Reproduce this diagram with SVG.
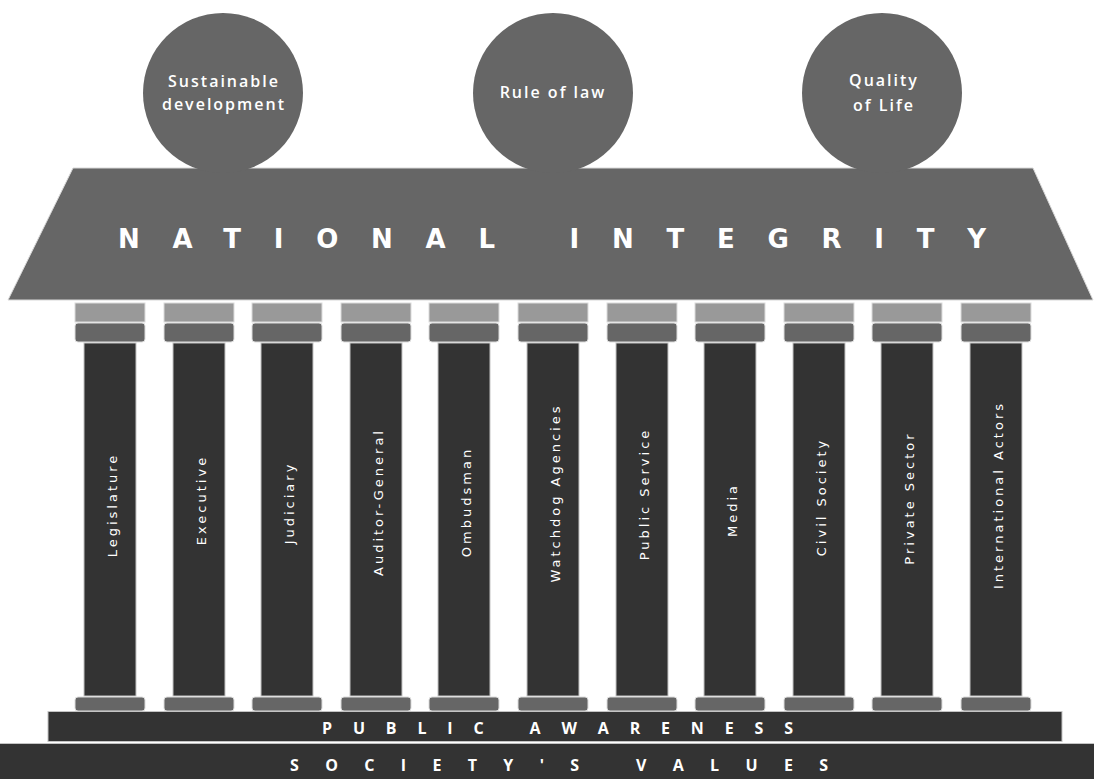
<svg xmlns="http://www.w3.org/2000/svg" width="1094" height="779" viewBox="0 0 1094 779">
<style>
.circ{fill:#666666}
.ctxt{fill:#ffffff;font-family:"Open Sans","DejaVu Sans",sans-serif;font-weight:600;font-size:16px;letter-spacing:2px;text-anchor:middle}
.roof{fill:#666666;stroke:#d8d8d8;stroke-width:1}
.title{fill:#ffffff;font-family:"DejaVu Sans",sans-serif;font-weight:bold;font-size:26px}
.cap{fill:#999999;stroke:#dcdcdc;stroke-width:1}
.band{fill:#666666;stroke:#dcdcdc;stroke-width:1}
.shaft{fill:#333333;stroke:#c4c4c4;stroke-width:1}
.base{fill:#666666;stroke:#dcdcdc;stroke-width:1}
.lbl{fill:#ffffff;font-family:"DejaVu Sans",sans-serif;font-size:13px;letter-spacing:3px;text-anchor:middle}
.bar{fill:#333333;stroke:#c4c4c4;stroke-width:1}
.btxt{fill:#ffffff;font-family:"Open Sans","DejaVu Sans",sans-serif;font-weight:700;font-size:16px}
</style>
<rect width="1094" height="779" fill="#ffffff"/>

<g id="roof">
<polygon class="roof" points="73,168 1033,168 1093,300 8,300"/>
<text class="title" x="118" y="248" textLength="868" lengthAdjust="spacing">NATIONAL INTEGRITY</text>
</g>

<g id="circle-sustainable">
<circle class="circ" cx="223" cy="93" r="80"/>
<text class="ctxt" x="224" y="87">Sustainable</text>
<text class="ctxt" x="224" y="110">development</text>
</g>
<g id="circle-rule">
<circle class="circ" cx="553" cy="93" r="80"/>
<text class="ctxt" x="553" y="98">Rule of law</text>
</g>
<g id="circle-quality">
<circle class="circ" cx="882" cy="93" r="80"/>
<text class="ctxt" x="884" y="86">Quality</text>
<text class="ctxt" x="884" y="111">of Life</text>
</g>

<g id="col-legislature">
<rect class="cap" x="75" y="303" width="70" height="19"/><rect class="band" x="75" y="323" width="70" height="19" rx="3"/>
<rect class="shaft" x="84" y="343" width="52" height="353"/><rect class="base" x="75" y="697" width="70" height="14" rx="3"/>
<text class="lbl" transform="translate(117,505) rotate(-90)">Legislature</text>
</g>
<g id="col-executive">
<rect class="cap" x="164" y="303" width="70" height="19"/><rect class="band" x="164" y="323" width="70" height="19" rx="3"/>
<rect class="shaft" x="173" y="343" width="52" height="353"/><rect class="base" x="164" y="697" width="70" height="14" rx="3"/>
<text class="lbl" transform="translate(206,500) rotate(-90)">Executive</text>
</g>
<g id="col-judiciary">
<rect class="cap" x="252" y="303" width="70" height="19"/><rect class="band" x="252" y="323" width="70" height="19" rx="3"/>
<rect class="shaft" x="261" y="343" width="52" height="353"/><rect class="base" x="252" y="697" width="70" height="14" rx="3"/>
<text class="lbl" transform="translate(294,503) rotate(-90)">Judiciary</text>
</g>
<g id="col-auditor">
<rect class="cap" x="341" y="303" width="70" height="19"/><rect class="band" x="341" y="323" width="70" height="19" rx="3"/>
<rect class="shaft" x="350" y="343" width="52" height="353"/><rect class="base" x="341" y="697" width="70" height="14" rx="3"/>
<text class="lbl" transform="translate(383,502) rotate(-90)">Auditor-General</text>
</g>
<g id="col-ombudsman">
<rect class="cap" x="429" y="303" width="70" height="19"/><rect class="band" x="429" y="323" width="70" height="19" rx="3"/>
<rect class="shaft" x="438" y="343" width="52" height="353"/><rect class="base" x="429" y="697" width="70" height="14" rx="3"/>
<text class="lbl" transform="translate(471,502) rotate(-90)">Ombudsman</text>
</g>
<g id="col-watchdog">
<rect class="cap" x="518" y="303" width="70" height="19"/><rect class="band" x="518" y="323" width="70" height="19" rx="3"/>
<rect class="shaft" x="527" y="343" width="52" height="353"/><rect class="base" x="518" y="697" width="70" height="14" rx="3"/>
<text class="lbl" transform="translate(560,493) rotate(-90)">Watchdog Agencies</text>
</g>
<g id="col-publicservice">
<rect class="cap" x="607" y="303" width="70" height="19"/><rect class="band" x="607" y="323" width="70" height="19" rx="3"/>
<rect class="shaft" x="616" y="343" width="52" height="353"/><rect class="base" x="607" y="697" width="70" height="14" rx="3"/>
<text class="lbl" transform="translate(649,494) rotate(-90)">Public Service</text>
</g>
<g id="col-media">
<rect class="cap" x="695" y="303" width="70" height="19"/><rect class="band" x="695" y="323" width="70" height="19" rx="3"/>
<rect class="shaft" x="704" y="343" width="52" height="353"/><rect class="base" x="695" y="697" width="70" height="14" rx="3"/>
<text class="lbl" transform="translate(737,510) rotate(-90)">Media</text>
</g>
<g id="col-civilsociety">
<rect class="cap" x="784" y="303" width="70" height="19"/><rect class="band" x="784" y="323" width="70" height="19" rx="3"/>
<rect class="shaft" x="793" y="343" width="52" height="353"/><rect class="base" x="784" y="697" width="70" height="14" rx="3"/>
<text class="lbl" transform="translate(826,497) rotate(-90)">Civil Society</text>
</g>
<g id="col-privatesector">
<rect class="cap" x="872" y="303" width="70" height="19"/><rect class="band" x="872" y="323" width="70" height="19" rx="3"/>
<rect class="shaft" x="881" y="343" width="52" height="353"/><rect class="base" x="872" y="697" width="70" height="14" rx="3"/>
<text class="lbl" transform="translate(914,498) rotate(-90)">Private Sector</text>
</g>
<g id="col-international">
<rect class="cap" x="961" y="303" width="70" height="19"/><rect class="band" x="961" y="323" width="70" height="19" rx="3"/>
<rect class="shaft" x="970" y="343" width="52" height="353"/><rect class="base" x="961" y="697" width="70" height="14" rx="3"/>
<text class="lbl" transform="translate(1003,495) rotate(-90)">International Actors</text>
</g>

<g id="public-awareness">
<rect class="bar" x="48" y="711.5" width="1014" height="30"/>
<text class="btxt" x="322" y="734" textLength="471" lengthAdjust="spacing">PUBLIC AWARENESS</text>
</g>
<g id="societys-values">
<rect class="bar" x="-2" y="743.5" width="1098" height="40"/>
<text class="btxt" x="290" y="771" textLength="538" lengthAdjust="spacing">SOCIETY'S VALUES</text>
</g>
</svg>
